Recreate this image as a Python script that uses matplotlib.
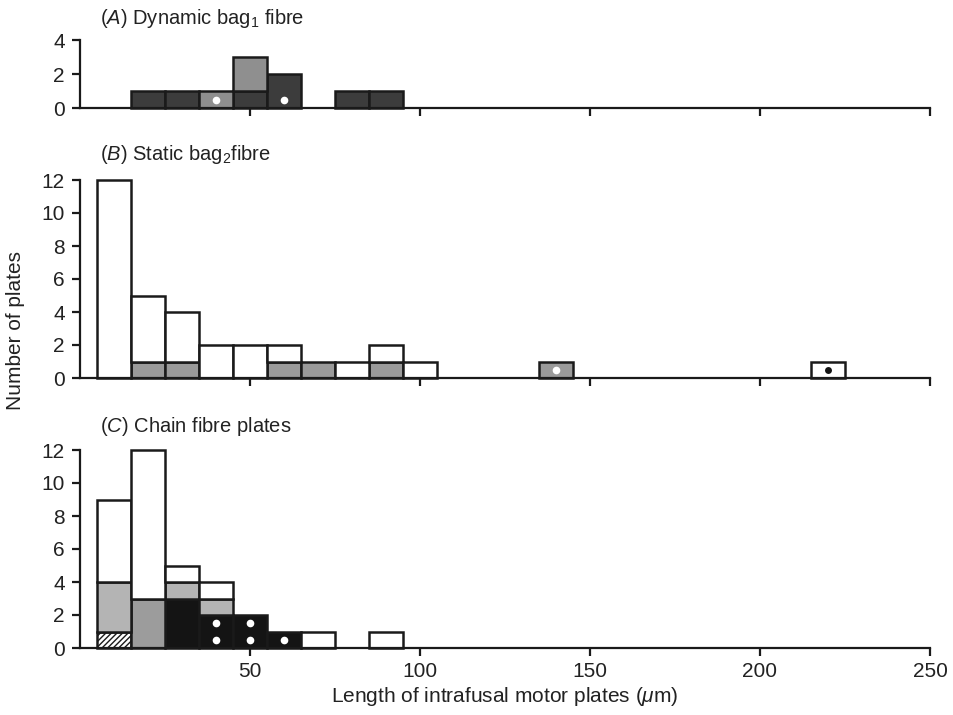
import matplotlib
matplotlib.use("Agg")
import matplotlib.pyplot as plt
from matplotlib import font_manager

names = {f.name for f in font_manager.fontManager.ttflist}
narrow = "Liberation Sans Narrow" if "Liberation Sans Narrow" in names else "Liberation Sans"
plt.rcParams['font.family'] = [narrow, 'DejaVu Sans']
plt.rcParams['mathtext.fontset'] = 'custom'
plt.rcParams['mathtext.rm'] = 'Liberation Sans'
plt.rcParams['mathtext.it'] = 'Liberation Sans:italic'
plt.rcParams['hatch.linewidth'] = 1.0

# ---------------- data ----------------
bin_width = 10
# Panel A: dynamic bag1 fibre
A_dark_x = [20, 30, 50, 60, 80, 90]
A_dark_n = [1, 1, 1, 2, 1, 1]
A_gray_x = [40, 50]
A_gray_n = [1, 2]
A_dot_x = [40, 60]
A_dot_y = [0.5, 0.5]

# Panel B: static bag2 fibre
B_gray_x = [20, 30, 60, 70, 90, 140]
B_gray_n = [1, 1, 1, 1, 1, 1]
B_white_x = [10, 20, 30, 40, 50, 60, 80, 90, 100, 220]
B_white_n = [12, 4, 3, 2, 2, 1, 1, 1, 1, 1]
B_wdot_x = [140]
B_wdot_y = [0.5]
B_kdot_x = [220]
B_kdot_y = [0.5]

# Panel C: chain fibre plates
C_hatch_x = [10]
C_hatch_n = [1]
C_black_x = [30, 40, 50, 60]
C_black_n = [3, 2, 2, 1]
C_mid_x = [20]
C_mid_n = [3]
C_light_x = [10, 30, 40]
C_light_n = [3, 1, 1]
C_white_x = [10, 20, 30, 40, 70, 90]
C_white_n = [5, 9, 1, 1, 1, 1]
C_dot_x = [40, 40, 50, 50, 60]
C_dot_y = [0.5, 1.5, 0.5, 1.5, 0.5]

x_ticks = [50, 100, 150, 200, 250]

DARK = '#3c3c3c'
MID = '#8f8f8f'
LIGHT = '#b4b4b4'
BLACK = '#141414'
EDGE = '#1a1a1a'
LW = 1.8

fig = plt.figure(figsize=(9.54, 7.15), dpi=100)
L = 80 / 954
W = (930 - 80) / 954
H = 715.0
axA = fig.add_axes([L, 1 - 108 / H, W, 68 / H])
axB = fig.add_axes([L, 1 - 378 / H, W, 198 / H])
axC = fig.add_axes([L, 1 - 648 / H, W, 198 / H])


class Stacker:
    def __init__(self, ax):
        self.ax = ax
        self.base = {}

    def add(self, xs, ns, color, hatch=None):
        bottoms = [self.base.get(x, 0) for x in xs]
        self.ax.bar(xs, ns, width=bin_width, bottom=bottoms, color=color,
                    edgecolor=EDGE, linewidth=LW, hatch=hatch, clip_on=False,
                    zorder=2)
        for x, n in zip(xs, ns):
            self.base[x] = self.base.get(x, 0) + n


sA = Stacker(axA)
sA.add(A_dark_x, A_dark_n, DARK)
sA.add(A_gray_x, A_gray_n, MID)
axA.plot(A_dot_x, A_dot_y, 'o', color='white', ms=5.5, mec='none', zorder=4)

sB = Stacker(axB)
sB.add(B_gray_x, B_gray_n, '#9a9a9a')
sB.add(B_white_x, B_white_n, 'white')
axB.plot(B_wdot_x, B_wdot_y, 'o', color='white', ms=5.5, mec='none', zorder=4)
axB.plot(B_kdot_x, B_kdot_y, 'o', color=BLACK, ms=5, mec='none', zorder=4)

sC = Stacker(axC)
sC.add(C_hatch_x, C_hatch_n, 'white', hatch='//////')
sC.add(C_black_x, C_black_n, BLACK)
sC.add(C_mid_x, C_mid_n, '#9c9c9c')
sC.add(C_light_x, C_light_n, LIGHT)
sC.add(C_white_x, C_white_n, 'white')
axC.plot(C_dot_x, C_dot_y, 'o', color='white', ms=5.5, mec='none', zorder=4)

for ax, ymax, step in [(axA, 4, 2), (axB, 12, 2), (axC, 12, 2)]:
    ax.set_xlim(0, 250)
    ax.set_ylim(0, ymax)
    ax.set_yticks(range(0, ymax + 1, step))
    ax.set_xticks(x_ticks)
    for s in ['top', 'right']:
        ax.spines[s].set_visible(False)
    ax.spines['left'].set_linewidth(1.6)
    ax.spines['bottom'].set_linewidth(1.6)
    ax.spines['left'].set_color(EDGE)
    ax.spines['bottom'].set_color(EDGE)
    ax.spines['left'].set_bounds(0, ymax)
    ax.tick_params(direction='out', length=6, width=1.6, color=EDGE,
                   labelsize=15, pad=5, labelcolor='#222222')
    ax.patch.set_visible(False)

axA.tick_params(axis='x', labelbottom=False)
axB.tick_params(axis='x', labelbottom=False)
axC.tick_params(axis='x', pad=4)

tkw = dict(fontsize=14.5, family=['Liberation Sans', 'DejaVu Sans'], va='center',
           ha='left', color='#222222')
fig.text(100 / 954, 1 - 18 / H, r'($\it{A}$) Dynamic bag$_1$ fibre', **tkw)
fig.text(100 / 954, 1 - 154 / H, r'($\it{B}$) Static bag$_2$fibre', **tkw)
fig.text(100 / 954, 1 - 427 / H, r'($\it{C}$) Chain fibre plates', **tkw)

fig.text(16 / 954, 1 - 331 / H, 'Number of plates', rotation=90, fontsize=15,
         va='center', ha='center', color='#222222')
fig.text(505 / 954, 1 - 697 / H, r'Length of intrafusal motor plates ($\mu$m)',
         fontsize=15, va='center', ha='center', color='#222222')

fig.savefig('out.png', dpi=100)
